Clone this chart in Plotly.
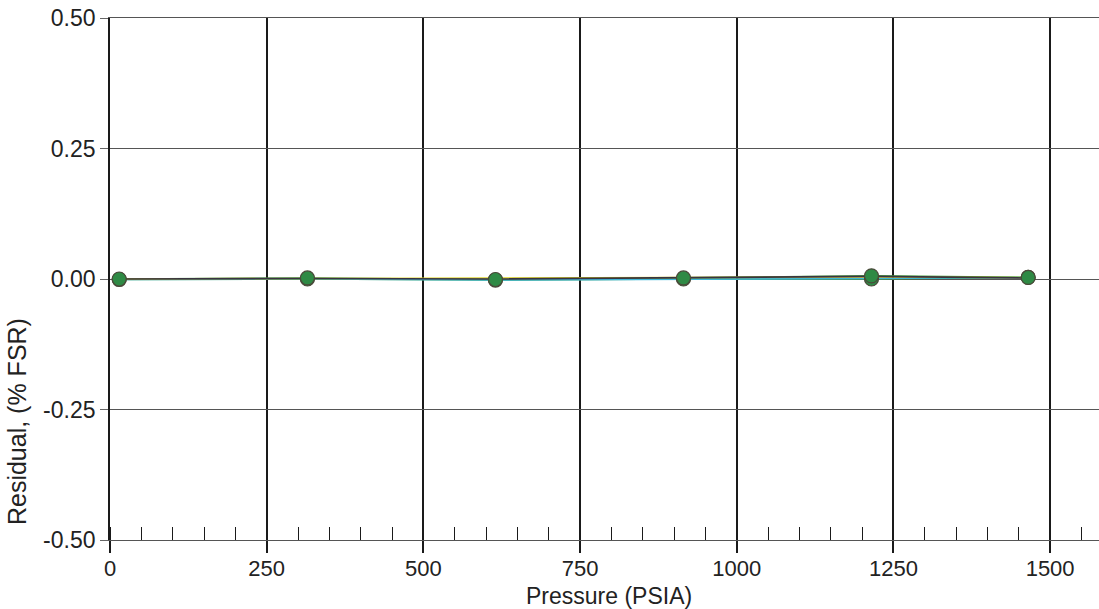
import plotly.graph_objects as go

pressure = [14.7, 315, 615, 915, 1215, 1465]
res_green = [0.000, 0.002, -0.001, 0.002, 0.006, 0.003]
res_low = [-0.001, 0.000, -0.002, 0.000, 0.000, 0.003]
res_black = [0.000, 0.001, 0.000, 0.003, 0.005, 0.002]
res_yellow = [0.000, 0.001, 0.001, 0.002, 0.004, 0.003]
res_cyan = [-0.001, 0.000, -0.002, -0.001, 0.001, 0.003]

x_ticks = [0, 250, 500, 750, 1000, 1250, 1500]
y_ticks = [-0.5, -0.25, 0.0, 0.25, 0.5]
y_tick_text = ["-0.50", "-0.25", "0.00", "0.25", "0.50"]

fig = go.Figure()
line_series = [
    (res_low, "#3f9a3a", 1.5),
    (res_green, "#3f9a3a", 1.5),
    (res_cyan, "#3fb6d8", 1.5),
    (res_yellow, "#d8d020", 1.5),
    (res_black, "#3a3440", 1.6),
]
for ys, col, w in line_series:
    fig.add_trace(go.Scatter(x=pressure, y=ys, mode="lines",
                             line=dict(color=col, width=w), showlegend=False,
                             cliponaxis=False))
for ys in (res_low, res_green):
    fig.add_trace(go.Scatter(x=pressure, y=ys, mode="markers",
                             marker=dict(size=14, color="#2f8a45",
                                         line=dict(color="#4a4a3a", width=1.2)),
                             showlegend=False, cliponaxis=False))

fam = "Liberation Sans, Arial, sans-serif"
fig.update_layout(
    width=1099, height=609,
    margin=dict(l=110, r=0, t=18, b=69),
    paper_bgcolor="white", plot_bgcolor="white",
    font=dict(family=fam, size=23, color="#222"),
    xaxis=dict(range=[0, 1578], tickvals=x_ticks, ticktext=[str(v) for v in x_ticks],
               showgrid=True, gridcolor="#1a1a1a", gridwidth=1.7,
               zeroline=False, showline=True, linecolor="#555", linewidth=1,
               mirror=True, automargin=False,
               ticks="outside", ticklen=12, tickwidth=1.7, tickcolor="#1a1a1a",
               ticklabelstandoff=-3,
               minor=dict(dtick=50, tick0=0, ticks="inside", ticklen=13,
                          tickwidth=1.3, tickcolor="#1a1a1a", showgrid=False),
               tickfont=dict(size=22)),
    yaxis=dict(range=[-0.5, 0.5], tickvals=y_ticks, ticktext=y_tick_text,
               showgrid=True, gridcolor="#555", gridwidth=1,
               zeroline=False, showline=True, linecolor="#1a1a1a", linewidth=1.7,
               mirror=False, automargin=False,
               ticks="outside", ticklen=8, tickwidth=1, tickcolor="#666",
               tickfont=dict(size=23)),
    annotations=[
        dict(text="Pressure (PSIA)", xref="paper", yref="paper",
             x=0.5045, y=-0.1075, xanchor="center", yanchor="middle",
             showarrow=False, font=dict(family=fam, size=23, color="#222")),
        dict(text="Residual, (% FSR)", xref="paper", yref="paper",
             x=-0.094, y=0.226, xanchor="center", yanchor="middle",
             textangle=-90, showarrow=False,
             font=dict(family=fam, size=25, color="#222")),
    ],
)

fig.write_html(
    "out.html",
    config={"displayModeBar": False},
    post_script="document.body.style.margin='0';document.body.style.overflow='hidden';",
)
